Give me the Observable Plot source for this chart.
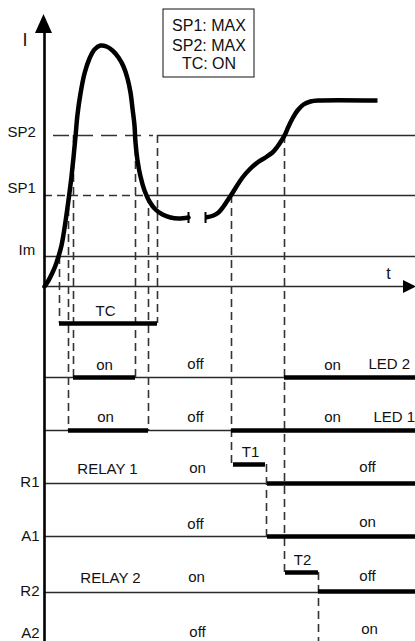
<!DOCTYPE html>
<html>
<head>
<meta charset="utf-8">
<script src="https://cdn.jsdelivr.net/npm/d3@7"></script>
<script src="https://cdn.jsdelivr.net/npm/@observablehq/plot@0.6"></script>
<style>
  html, body { margin: 0; padding: 0; background: #fff; overflow: hidden; }
  svg { display: block; }
</style>
</head>
<body>
<div id="chart"></div>
<script>
// ---- data (time t, current I / signal level) ----
const curveRise = [
  [44,286],[48,280],[52,272],[55,265],[58,256],[61,245],[63,234],[65,221],[67,207],[69,192],
  [71,176],[73,157],[75,136],[77,114],[80,93],[84,73],[89,58],[94,49],[100,45],[106,46],
  [112,50],[118,57],[123,66],[127,78],[130,92],[132,108],[134,125],[135,142],[137,160],
  [140,176],[144,190],[149,201],[155,209],[162,214],[170,217],[178,218],[188,217]
];
const curveSettle = [
  [205,217],[213,215],[218,212],[223,206],[227,200],[231,194],[236,186],[242,177],[249,169],
  [257,162],[265,157],[272,152],[277,146],[281,140],[284,135],[288,126],[292,118],[297,110],
  [303,104],[310,101],[318,100],[377,100]
];
const breakTicks = [188, 205];

// threshold levels (I)
const levelSP2 = 135, levelSP1 = 195, levelIm = 256, levelT = 286;
const tStart = 44, tEnd = 415;

// rows of the timing diagram
const rowTC = 323, rowLED2 = 377, rowLED1 = 430, rowT1 = 464, rowR1 = 483, rowA1 = 536, rowT2 = 572, rowR2 = 592, rowA2 = 645;

// event times
const tIm = 59, tSP1up = 68, tSP2up = 73, tSP2down = 135, tSP1down = 148, tTCend = 157;
const tSP1again = 231, tSP2again = 284, tT1end = 267, tT2end = 318;

const thinLines = [
  {y: levelIm, x1: tStart, x2: tEnd},
  {y: levelT, x1: tStart, x2: 405},
  {y: levelSP2, x1: tTCend, x2: tEnd},
  {y: levelSP1, x1: tSP1down - 1, x2: tEnd},
  {y: rowLED2, x1: tStart, x2: tEnd},
  {y: rowLED1, x1: tStart, x2: tEnd},
  {y: rowR1, x1: tStart, x2: tT1end},
  {y: rowA1, x1: tStart, x2: tT1end},
  {y: rowR2, x1: tStart, x2: tT2end},
  {y: rowA2, x1: tStart, x2: tT2end}
];
const dashedLevels = [
  {y: levelSP2, x1: tStart, x2: 153},
  {y: levelSP1, x1: tStart, x2: 147}
];
const onBars = [
  {y: rowTC, x1: tIm, x2: tTCend},
  {y: rowLED2, x1: tSP2up, x2: tSP2down},
  {y: rowLED2, x1: tSP2again, x2: tEnd},
  {y: rowLED1, x1: tSP1up, x2: tSP1down},
  {y: rowLED1, x1: tSP1again, x2: tEnd},
  {y: rowT1, x1: tSP1again + 2, x2: tT1end - 2},
  {y: rowR1, x1: tT1end, x2: tEnd},
  {y: rowA1, x1: tT1end, x2: tEnd},
  {y: rowT2, x1: tSP2again + 1, x2: tT2end},
  {y: rowR2 - 1, x1: tT2end, x2: tEnd},
  {y: rowA2, x1: tT2end, x2: tEnd}
];
const eventLines = [
  {x: tIm, y1: levelIm, y2: rowTC},
  {x: tSP1up, y1: levelSP1, y2: rowLED1},
  {x: tSP2up, y1: levelSP2, y2: rowLED2},
  {x: tSP2down, y1: levelSP2, y2: rowLED2},
  {x: tSP1down, y1: levelSP1, y2: rowLED1},
  {x: tTCend, y1: levelSP2, y2: rowTC},
  {x: tSP1again, y1: levelSP1, y2: rowT1},
  {x: tSP2again, y1: levelSP2, y2: rowT2},
  {x: tT1end - 1, y1: rowT1, y2: rowA1},
  {x: tT2end, y1: rowT2, y2: 641}
];

const leftLabels = [
  {text: "SP2", x: 7, y: 132}, {text: "SP1", x: 7, y: 188}, {text: "Im", x: 18, y: 250}
];
const rowLabels = [
  {text: "R1", x: 39, y: 482}, {text: "A1", x: 39, y: 536}, {text: "R2", x: 39, y: 591}, {text: "A2", x: 39, y: 633}
];
const stateLabels = [
  {text: "TC", x: 105, y: 311},
  {text: "on", x: 104, y: 365}, {text: "off", x: 195, y: 364}, {text: "on", x: 332, y: 365},
  {text: "on", x: 105, y: 417}, {text: "off", x: 195, y: 417}, {text: "on", x: 332, y: 417},
  {text: "RELAY 1", x: 107, y: 469}, {text: "on", x: 197, y: 468}, {text: "off", x: 367, y: 467}, {text: "T1", x: 250, y: 452},
  {text: "off", x: 195, y: 524}, {text: "on", x: 367, y: 522},
  {text: "RELAY 2", x: 110, y: 578}, {text: "on", x: 196, y: 577}, {text: "off", x: 367, y: 576}, {text: "T2", x: 302, y: 560},
  {text: "off", x: 197, y: 632}, {text: "on", x: 369, y: 629}
];
const ledLabels = [
  {text: "LED 2", x: 368, y: 364}, {text: "LED 1", x: 373, y: 417}
];
const legendLines = ["SP1: MAX", "SP2: MAX", "TC: ON"];
const legendY = [25.5, 45, 63];

// arrowheads
const arrowI = [{y: 14, x1: 43.5, x2: 43.5}, {y: 33, x1: 35, x2: 52}];
const arrowT = [{x: 403, y1: 280, y2: 293}, {x: 416, y1: 286.5, y2: 286.5}];

const font = "Liberation Sans, Arial, sans-serif";
const ink = "#111";
const lineInk = "#2a2a2a";

const chart = Plot.plot({
  width: 415,
  height: 641,
  margin: 0,
  x: {domain: [0, 415], range: [0, 415], axis: null},
  y: {domain: [0, 641], range: [0, 641], axis: null},
  style: {background: "#fff", fontFamily: font},
  marks: [
    // legend box
    Plot.rect([{x1: 163, x2: 254, y1: 9, y2: 77}], {x1: "x1", x2: "x2", y1: "y1", y2: "y2", fill: "none", stroke: ink, strokeWidth: 1}),
    Plot.text(legendLines, {x: () => 208.5, y: (d, i) => legendY[i], text: d => d, fontSize: 16, fill: ink, textAnchor: "middle", lineAnchor: "middle"}),
    // thin level & row lines
    Plot.ruleY(thinLines, {y: "y", x1: "x1", x2: "x2", stroke: lineInk, strokeWidth: 1.6}),
    Plot.ruleY(dashedLevels.slice(0, 1), {y: "y", x1: "x1", x2: "x2", stroke: "#333", strokeWidth: 1.6, strokeDasharray: "16,8", strokeDashoffset: -9}),
    Plot.ruleY(dashedLevels.slice(1), {y: "y", x1: "x1", x2: "x2", stroke: "#333", strokeWidth: 1.6, strokeDasharray: "8,5"}),
    // dashed event lines
    Plot.ruleX(eventLines, {x: "x", y1: "y1", y2: "y2", stroke: "#333", strokeWidth: 1.6, strokeDasharray: "8,5"}),
    // on bars
    Plot.ruleY(onBars, {y: "y", x1: "x1", x2: "x2", stroke: "#000", strokeWidth: 4.5}),
    // current curve
    Plot.line(curveRise, {x: d => d[0], y: d => d[1], curve: "catmull-rom", stroke: "#000", strokeWidth: 4.5, strokeLinecap: "round", strokeLinejoin: "round"}),
    Plot.line(curveSettle, {x: d => d[0], y: d => d[1], curve: "catmull-rom", stroke: "#000", strokeWidth: 4.5, strokeLinecap: "butt", strokeLinejoin: "round"}),
    Plot.ruleX(breakTicks, {x: d => d, y1: 212, y2: 223, stroke: "#000", strokeWidth: 2}),
    // axes
    Plot.ruleX([tStart], {x: d => d, y1: 30, y2: 641, stroke: "#000", strokeWidth: 2.6}),
    Plot.areaX(arrowI, {y: "y", x1: "x1", x2: "x2", fill: "#000", curve: "linear"}),
    Plot.areaY(arrowT, {x: "x", y1: "y1", y2: "y2", fill: "#000", curve: "linear"}),
    Plot.text(["I"], {x: () => 24.5, y: () => 40, text: d => d, fontSize: 18, fill: ink, textAnchor: "middle", lineAnchor: "middle"}),
    Plot.text(["t"], {x: () => 388, y: () => 273, text: d => d, fontSize: 16, fill: ink, textAnchor: "middle", lineAnchor: "middle"}),
    // labels
    Plot.text(leftLabels, {x: "x", y: "y", text: "text", fontSize: 15, fill: ink, textAnchor: "start", lineAnchor: "middle"}),
    Plot.text(rowLabels, {x: "x", y: "y", text: "text", fontSize: 15, fill: ink, textAnchor: "end", lineAnchor: "middle"}),
    Plot.text(stateLabels, {x: "x", y: "y", text: "text", fontSize: 15, fill: ink, textAnchor: "middle", lineAnchor: "middle"}),
    Plot.text(ledLabels, {x: "x", y: "y", text: "text", fontSize: 15, fill: ink, textAnchor: "start", lineAnchor: "middle"})
  ]
});
document.getElementById("chart").appendChild(chart);
</script>
</body>
</html>
